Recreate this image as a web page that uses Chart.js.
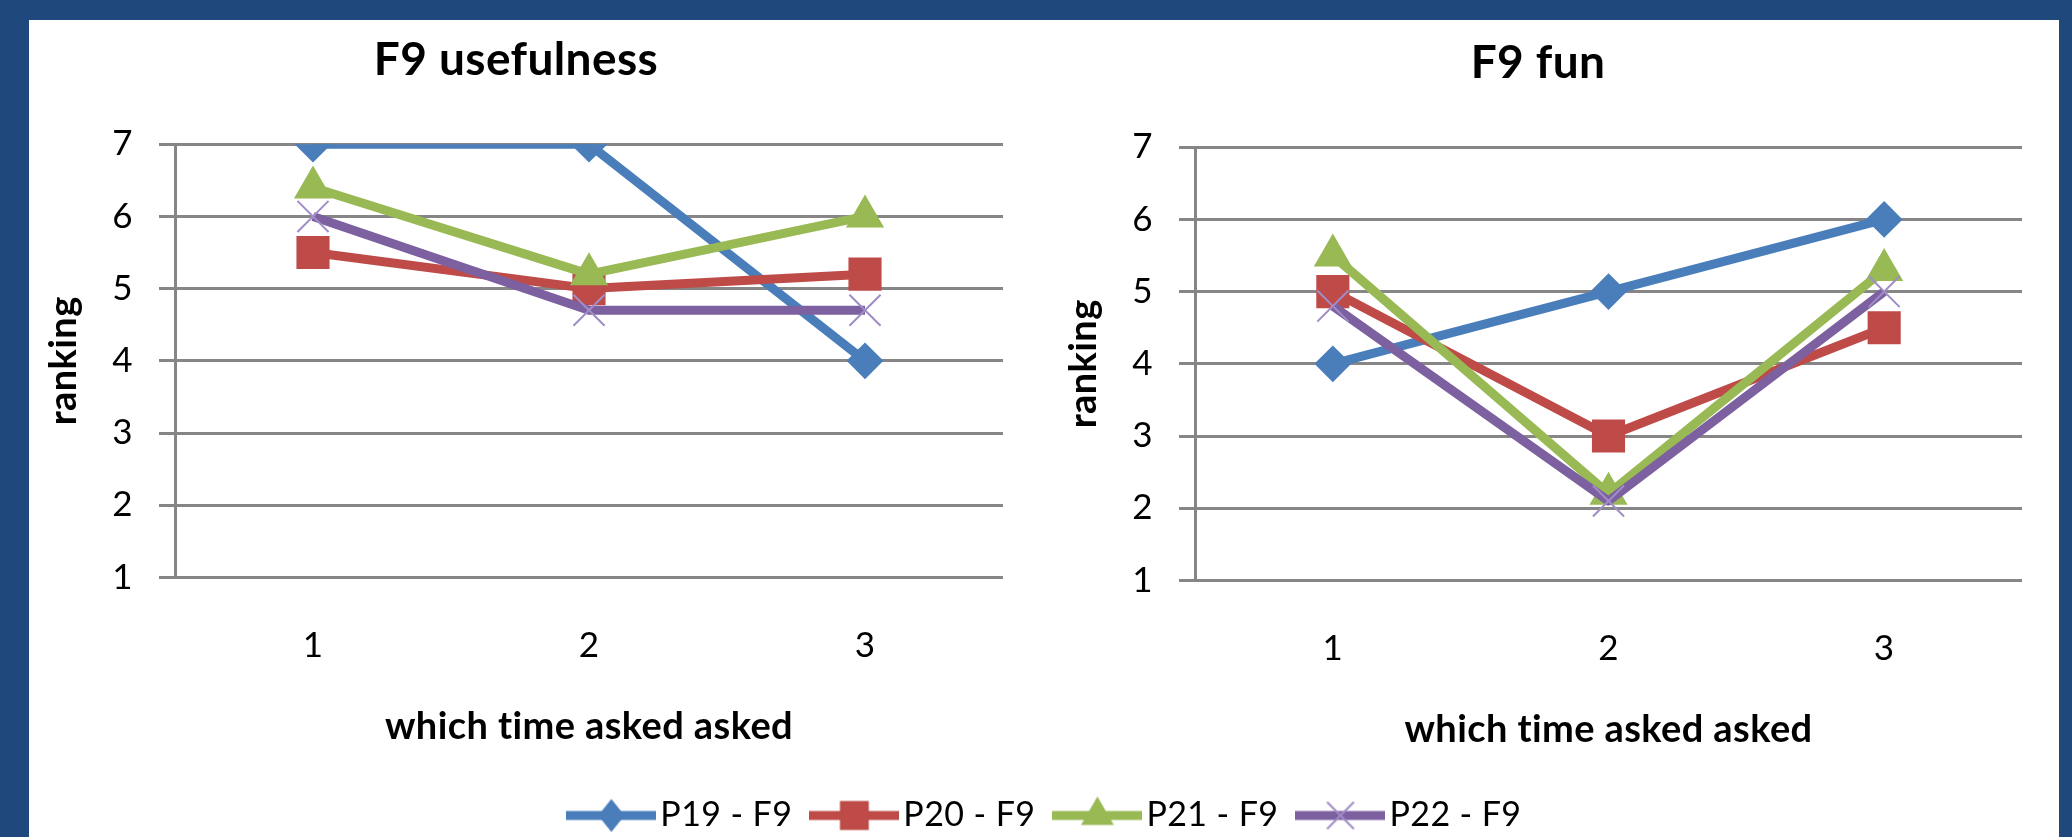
<!DOCTYPE html>
<html><head><meta charset="utf-8">
<script src="https://cdn.jsdelivr.net/npm/chart.js@4.4.0/dist/chart.umd.min.js"></script>
<style>
html,body{margin:0;padding:0;}
body{width:2072px;height:837px;background:#1F497D;position:relative;overflow:hidden;}
#panel{position:absolute;left:29px;top:20px;width:2030px;height:817px;background:#fff;}
.box{position:absolute;}
</style></head><body>
<div id="panel"></div>
<div class="box" style="left:29px;top:700px;width:2030px;height:138px"><canvas id="c3"></canvas></div>
<div class="box" style="left:17px;top:0;width:1010px;height:780px"><canvas id="c1"></canvas></div>
<div class="box" style="left:1040px;top:0;width:1006px;height:780px"><canvas id="c2"></canvas></div>
<script>
// ---- data ----
const categories = ['1', '2', '3'];
const seriesNames = ['P19 - F9', 'P20 - F9', 'P21 - F9', 'P22 - F9'];
const yTickValues = [1, 2, 3, 4, 5, 6, 7];

const usefulnessP19 = [7, 7, 4];
const usefulnessP20 = [5.5, 5.0, 5.2];
const usefulnessP21 = [6.4, 5.2, 6.0];
const usefulnessP22 = [6.0, 4.7, 4.7];

const funP19 = [4, 5, 6];
const funP20 = [5.0, 3.0, 4.5];
const funP21 = [5.5, 2.2, 5.3];
const funP22 = [4.8, 2.1, 5.0];

const chartTitles = ['F9 usefulness', 'F9 fun'];
const xAxisTitle = 'which time asked asked';
const yAxisTitle = 'ranking';

// ---- styles ----
const colors = ['#4A7EBB', '#BE4B48', '#98B954', '#7D60A0'];
const markerBorder = ['#4A7EBB', '#BE4B48', '#98B954', '#A08CC6'];
const markerStyles = ['rectRot', 'rect', 'triangle', 'crossRot'];
const markerRadius = [17, 22, 20, 22];
const markerBorderWidth = [2, 2, 2, 2];
const FONT = 'Lato';

const noLigatures = {
  id: 'noLigatures',
  beforeDraw(chart) { try { chart.ctx.letterSpacing = '0.4px'; } catch (e) {} }
};

function datasetsFor(arrays) {
  return arrays.map((d, i) => ({
    label: seriesNames[i],
    data: d,
    borderColor: colors[i],
    backgroundColor: colors[i],
    borderWidth: 9,
    borderJoinStyle: 'round',
    tension: 0,
    pointStyle: markerStyles[i],
    pointRadius: markerRadius[i],
    pointHoverRadius: markerRadius[i],
    pointBorderWidth: markerBorderWidth[i],
    pointBackgroundColor: i === 3 ? 'rgba(0,0,0,0)' : colors[i],
    pointBorderColor: markerBorder[i],
    order: 4 - i
  }));
}

function makeChart(id, title, arrays, cfg) {
  return new Chart(document.getElementById(id), {
    type: 'line',
    data: { labels: categories, datasets: datasetsFor(arrays) },
    plugins: [noLigatures],
    options: {
      responsive: true, maintainAspectRatio: false, animation: false, devicePixelRatio: 1,
      layout: { padding: { top: 0, left: 0, right: cfg.padRight, bottom: cfg.padBottom } },
      plugins: {
        legend: { display: false },
        tooltip: { enabled: false },
        title: {
          display: true, text: title, color: '#000',
          font: { family: FONT, size: 46, weight: 'bold' },
          padding: { top: cfg.titleTop, bottom: 56 }
        }
      },
      scales: {
        x: {
          type: 'category', offset: true,
          grid: { display: false, drawTicks: false },
          border: { display: false },
          ticks: { padding: 47, color: '#000', font: { family: FONT, size: 35 } },
          title: { display: true, text: xAxisTitle, color: '#000',
                   font: { family: FONT, size: 38, weight: 'bold' }, padding: { top: -9, bottom: 0 } }
        },
        y: {
          min: yTickValues[0], max: yTickValues[yTickValues.length - 1],
          afterBuildTicks: (s) => { s.ticks = yTickValues.map(v => ({ value: v })); },
          ticks: { stepSize: 1, padding: 26, color: '#000', font: { family: FONT, size: 35 } },
          grid: { color: '#868686', lineWidth: 3, tickLength: 16, drawTicks: true },
          border: { display: true, color: '#868686', width: 3 },
          title: { display: true, text: yAxisTitle, color: '#000',
                   font: { family: FONT, size: 38, weight: 'bold' }, padding: { top: cfg.yTitlePad, bottom: 0 } },
          afterFit: (s) => { s.width = cfg.yWidth; }
        }
      }
    }
  });
}

makeChart('c1', chartTitles[0], [usefulnessP19, usefulnessP20, usefulnessP21, usefulnessP22],
  { padRight: 12, padBottom: 30, titleTop: 33, yTitlePad: 24, yWidth: 158 });
makeChart('c2', chartTitles[1], [funP19, funP20, funP21, funP22],
  { padRight: 10, padBottom: 27, titleTop: 36, yTitlePad: 21, yWidth: 155 });

// ---- legend (shared) ----
const legendMarkerRadius = [15, 19, 17, 19];
function makeIcon(i) {
  const c = document.createElement('canvas');
  c.width = 90; c.height = 40;
  const ctx = c.getContext('2d');
  const cx = 45, cy = 20, r = legendMarkerRadius[i];
  ctx.strokeStyle = colors[i]; ctx.lineWidth = 9;
  ctx.beginPath(); ctx.moveTo(0, cy); ctx.lineTo(90, cy); ctx.stroke();
  ctx.fillStyle = colors[i];
  ctx.strokeStyle = markerBorder[i]; ctx.lineWidth = 2;
  ctx.beginPath();
  const st = markerStyles[i];
  if (st === 'rectRot') {
    ctx.moveTo(cx - r * 0.8, cy); ctx.lineTo(cx, cy - r); ctx.lineTo(cx + r * 0.8, cy); ctx.lineTo(cx, cy + r); ctx.closePath();
    ctx.fill(); ctx.stroke();
  } else if (st === 'rect') {
    const s = r * Math.SQRT1_2;
    ctx.rect(cx - s, cy - s, 2 * s, 2 * s); ctx.fill(); ctx.stroke();
  } else if (st === 'triangle') {
    ctx.moveTo(cx, cy - r); ctx.lineTo(cx + r * 0.866, cy + r * 0.5); ctx.lineTo(cx - r * 0.866, cy + r * 0.5); ctx.closePath();
    ctx.fill(); ctx.stroke();
  } else {
    const s = r * Math.SQRT1_2;
    ctx.moveTo(cx - s, cy - s); ctx.lineTo(cx + s, cy + s);
    ctx.moveTo(cx + s, cy - s); ctx.lineTo(cx - s, cy + s);
    ctx.stroke();
  }
  return c;
}
const legendIcons = seriesNames.map((n, i) => makeIcon(i));

new Chart(document.getElementById('c3'), {
  type: 'line',
  data: { labels: ['a'], datasets: seriesNames.map((n, i) => ({ label: n, data: [null], borderColor: colors[i] })) },
  plugins: [noLigatures],
  options: {
    responsive: true, maintainAspectRatio: false, animation: false, devicePixelRatio: 1,
    layout: { padding: { top: 0, bottom: 1 } },
    scales: { x: { display: false }, y: { display: false, min: 0, max: 1 } },
    plugins: {
      tooltip: { enabled: false },
      title: { display: false },
      legend: {
        display: true, position: 'bottom',
        labels: {
          usePointStyle: true, pointStyleWidth: 64, padding: 30, color: '#000',
          font: { family: FONT, size: 34 },
          generateLabels: () => seriesNames.map((n, i) => ({
            text: n, pointStyle: legendIcons[i], fillStyle: colors[i], strokeStyle: colors[i],
            lineWidth: 0, hidden: false, datasetIndex: i, fontColor: '#000'
          }))
        }
      }
    }
  }
});
</script>
</body></html>
